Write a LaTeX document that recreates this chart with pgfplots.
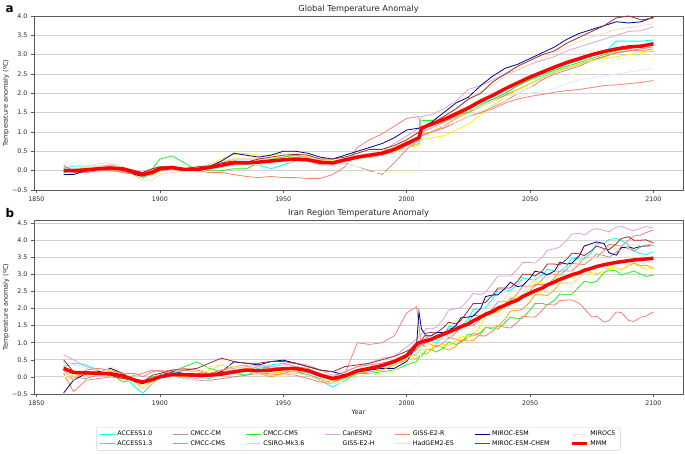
\documentclass[border=0pt]{standalone}
\usepackage{pgfplots}
\pgfplotsset{compat=1.18}
\usepackage{pgfplotstable}
\usepackage{fontspec}
\setmainfont{DejaVu Sans}

\definecolor{cA10}{HTML}{00FFFF}
\definecolor{cA13}{HTML}{FFA500}
\definecolor{cCM}{HTML}{BC8F8F}
\definecolor{cCMS}{HTML}{F08080}
\definecolor{cCM5}{HTML}{22EE22}
\definecolor{cCS}{HTML}{FFEE00}
\definecolor{cCAN}{HTML}{DDA0DD}
\definecolor{cGH}{HTML}{FCF8D8}
\definecolor{cGR}{HTML}{FA8072}
\definecolor{cHG}{HTML}{F5DEB3}
\definecolor{cME}{HTML}{00008B}
\definecolor{cMC}{HTML}{A52A2A}
\definecolor{cM5}{HTML}{E6E6FA}
\definecolor{cMMM}{HTML}{FF0000}

\newcommand\tickfont{\fontsize{6.3}{7.5}\selectfont}

\pgfplotstableread{
yr   A10  A13  CM   CMS  CM5  CS   CAN  GH   GR   HG   ME   MC   M5   MMM
1861 0.05 0.0  0.0  0.1  -0.05 0.0 0.0  0.0  0.15 0.0  -0.1 0.0  0.0  0.0
1865 0.12 0.05 -0.03 0.02 0.0 0.05 0.0  0.02 -0.05 0.05 -0.1 0.0 0.05 0.0
1870 0.12 0.05 0.02 -0.02 -0.03 0.08 0.05 0.05 -0.05 0.1 0.0 0.05 0.02 0.02
1875 0.12 0.1  0.05 0.02 0.05 0.1  0.1  0.12 0.0  0.18 0.08 0.05 0.1 0.05
1880 0.1  0.15 0.1  0.0  0.08 0.12 0.15 0.18 0.0  0.2  0.1  0.05 0.12 0.07
1885 0.05 0.1  0.05 -0.05 0.02 0.05 0.08 0.1 -0.02 0.1 0.05 0.08 0.05 0.04
1890 -0.05 -0.05 -0.02 -0.1 -0.12 -0.1 0.0 -0.1 -0.1 -0.15 -0.1 0.0 -0.05 -0.05
1893 -0.2 -0.15 -0.05 -0.12 -0.2 -0.15 -0.1 -0.2 -0.15 -0.25 -0.15 -0.05 -0.15 -0.1
1897 -0.05 -0.1 0.05 -0.05 0.05 -0.05 0.02 -0.15 0.0 -0.25 -0.05 0.05 -0.05 -0.04
1900 0.05 0.0  0.1  0.05 0.3  0.05 0.08 -0.1 0.1  -0.1 0.05 0.1  0.05 0.05
1905 0.1  0.05 0.12 0.1  0.38 0.1  0.1  -0.15 0.08 -0.05 0.05 0.1 0.08 0.08
1910 0.05 0.0  0.05 0.05 0.2  0.05 0.05 -0.1 0.05 0.0  0.0  0.05 0.05 0.03
1915 0.05 0.05 0.0  0.08 0.0  0.05 0.08 -0.05 0.0 0.05 0.02 0.1  0.05 0.03
1920 0.1  0.1  0.05 0.12 0.0  0.15 0.15 0.05 -0.05 0.15 0.1 0.12 0.1 0.08
1925 0.15 0.2  0.1  0.15 0.0  0.3  0.2  0.1  -0.05 0.25 0.25 0.2 0.18 0.14
1930 0.2  0.3  0.15 0.2  0.05 0.42 0.25 0.15 -0.1 0.3  0.45 0.25 0.2  0.2
1935 0.15 0.3  0.2  0.18 0.05 0.45 0.25 0.2  -0.15 0.3 0.4  0.22 0.2  0.2
1940 0.15 0.3  0.25 0.2  0.2  0.4  0.2  0.15 -0.18 0.28 0.35 0.3 0.2  0.22
1945 0.05 0.3  0.25 0.25 0.3  0.4  0.25 0.2  -0.15 0.3 0.4  0.35 0.25 0.25
1950 0.15 0.35 0.3  0.3  0.35 0.45 0.3  0.25 -0.18 0.3 0.5  0.4  0.3  0.28
1955 0.25 0.4  0.3  0.35 0.4  0.45 0.3  0.3  -0.18 0.35 0.5 0.42 0.3  0.3
1960 0.25 0.35 0.25 0.3  0.3  0.4  0.25 0.25 -0.2 0.35 0.45 0.4  0.25 0.28
1965 0.2  0.25 0.15 0.25 0.2  0.3  0.2  0.2  -0.2 0.25 0.35 0.3  0.2  0.22
1970 0.15 0.2  0.15 0.2  0.2  0.25 0.2  0.15 -0.1 0.2  0.3  0.3  0.15 0.2
1975 0.25 0.25 0.2  0.3  0.3  0.3  0.3  0.2  0.1  0.3  0.4  0.35 0.2  0.28
1980 0.35 0.3  0.1  0.35 0.35 0.35 0.4  0.1  0.6  0.4  0.5  0.45 0.3  0.35
1985 0.4  0.35 0.0  0.35 0.4  0.4  0.4  -0.05 0.8 0.45 0.6  0.55 0.35 0.4
1990 0.45 0.4  -0.1 0.4  0.5  0.45 0.5  -0.05 0.95 0.5 0.7  0.55 0.4  0.45
1995 0.55 0.5  0.2  0.5  0.6  0.5  0.7  -0.05 1.15 0.6 0.85 0.65 0.45 0.55
2000 0.65 0.6  0.55 0.65 0.75 0.6  0.9  -0.05 1.35 0.75 1.05 0.8 0.6  0.7
2005 0.75 0.7  0.8  0.8  0.85 0.65 1.1  -0.05 1.4 0.9  1.1  1.0  0.8  0.85
2006 1.1  0.95 0.9  1.0  1.3  0.8  1.4  1.35 0.9  1.1  1.12 1.05 1.2  1.1
2010 1.15 1.0  1.0  1.1  1.3  0.85 1.45 1.4  1.0  1.25 1.25 1.2  1.1  1.2
2015 1.3  1.15 1.1  1.25 1.35 0.9  1.6  1.45 1.1  1.4  1.5  1.4  1.15 1.32
2020 1.45 1.35 1.25 1.4  1.45 1.05 1.8  1.5  1.25 1.6  1.75 1.6  1.25 1.47
2025 1.6  1.5  1.4  1.55 1.5  1.2  2.1  1.55 1.4  1.85 1.9  1.85 1.4  1.62
2030 1.75 1.65 1.5  1.65 1.7  1.45 2.2  1.65 1.5  2.05 2.2  2.0  1.55 1.8
2035 1.85 1.8  1.65 1.8  1.85 1.7  2.35 1.8  1.6  2.2  2.45 2.3  1.68 1.95
2040 2.0  1.95 1.8  1.95 2.0  1.9  2.5  1.9  1.75 2.45 2.65 2.5  1.8  2.12
2045 2.2  2.1  2.0  2.1  2.2  2.1  2.6  2.0  1.85 2.6  2.75 2.7  1.9  2.27
2050 2.35 2.25 2.15 2.25 2.35 2.25 2.75 2.15 1.92 2.75 2.9 2.85 2.0  2.42
2055 2.45 2.4  2.35 2.4  2.5  2.4  2.85 2.25 1.97 2.9  3.05 3.0 2.07 2.55
2060 2.6  2.55 2.5  2.55 2.6  2.55 2.95 2.35 2.03 3.05 3.2 3.1  2.12 2.68
2065 2.75 2.65 2.6  2.65 2.7  2.65 3.1  2.45 2.07 3.2  3.4  3.3  2.25 2.8
2070 2.85 2.75 2.7  2.75 2.8  2.75 3.2  2.55 2.1  3.35 3.55 3.45 2.35 2.9
2075 2.95 2.85 2.85 2.85 2.9  2.85 3.3  2.65 2.15 3.45 3.65 3.6 2.4  3.0
2080 3.05 2.95 2.95 2.95 3.0  2.9  3.4  2.75 2.2  3.55 3.75 3.75 2.45 3.08
2085 3.35 3.05 3.05 3.05 3.1  2.95 3.5  2.85 2.22 3.65 3.85 3.95 2.5 3.15
2090 3.35 3.1  3.1  3.1  3.15 3.0  3.6  2.9  2.25 3.7  3.82 4.0  2.55 3.2
2095 3.35 3.1  3.15 3.1  3.22 3.05 3.62 2.95 2.28 3.75 3.85 3.9 2.6  3.22
2100 3.38 3.08 3.2  3.15 3.3  3.1  3.72 3.0  2.33 3.8  3.97 3.95 2.65 3.28
}\tabA

\pgfplotstableread{
yr   A10  A13  CM   CMS  CM5  CS   CAN  GH   GR   HG   ME   MC   M5   MMM
1861 0.3  0.2  0.3  0.2  0.1  0.0  0.65 0.0  0.1  0.1  -0.47 0.5 0.4  0.25
1865 0.4  0.1  0.0  -0.1 0.15 0.0  0.5  0.1  -0.43 0.15 -0.1 0.15 0.35 0.13
1870 0.35 0.05 -0.05 0.2 0.1  0.15 0.3  0.15 -0.1 0.1  0.1  0.1  0.25 0.12
1875 0.2  0.1  0.05 0.25 0.2  0.1  0.2  0.05 -0.05 0.05 0.15 0.1 0.2  0.1
1880 0.15 0.15 0.1  0.2  0.1  0.2  0.15 0.1  0.0  0.3  0.25 0.05 0.15 0.09
1885 0.05 0.0  0.0  0.1  -0.15 0.0 0.1  0.0  -0.05 0.15 0.1 -0.05 0.05 0.03
1890 -0.3 -0.15 -0.1 0.1 -0.05 -0.1 -0.1 -0.2 0.05 -0.2 -0.15 -0.1 -0.1 -0.1
1893 -0.48 -0.3 -0.15 0.0 -0.2 -0.3 -0.2 -0.3 0.1 -0.35 -0.2 -0.15 -0.15 -0.15
1897 -0.2 -0.1 -0.05 0.15 0.0 -0.15 -0.1 -0.1 0.2 -0.2 -0.05 0.05 -0.05 -0.08
1900 0.0  0.0  0.1  0.2  0.05 0.0  0.0  0.1  0.15 -0.05 0.05 0.1 0.05 0.0
1905 0.15 0.05 0.05 0.1  0.15 0.1  0.1  0.05 0.2  0.1  0.15 0.2  0.1  0.07
1910 0.1  0.0  -0.05 0.2 0.3  0.0  0.0  0.1  0.25 0.05 0.1  0.2  -0.05 0.06
1915 0.0  0.05 -0.1 0.15 0.44 0.05 -0.05 0.15 0.2 0.1  0.1  0.25 -0.1 0.05
1920 -0.05 0.0 -0.1 0.1  0.25 0.2  0.1  0.0  0.1  0.3  0.05 0.4  0.0  0.05
1925 0.1  0.2  -0.05 0.2 0.15 0.35 0.2  0.1  0.15 0.35 0.15 0.55 0.1  0.08
1930 0.2  0.3  0.0  0.1  0.1  0.3  0.25 0.15 0.2  0.3  0.44 0.45 0.2  0.15
1935 0.15 0.35 0.05 0.2  0.05 0.25 0.3  0.2  0.25 0.2  0.4  0.4  0.25 0.2
1940 0.25 0.1  0.1  0.3  0.2  0.2  0.35 0.15 0.1  0.1  0.35 0.4  0.3  0.18
1945 0.35 0.0  0.1  0.25 0.3  0.1  0.3  0.2  0.05 0.05 0.45 0.45 0.2  0.2
1950 0.4  0.1  0.15 0.2  0.25 0.15 0.35 0.25 0.1  0.0  0.49 0.45 0.2  0.24
1955 0.3  0.2  0.15 0.3  0.2  0.25 0.4  0.3  0.05 0.1  0.4  0.4  0.25 0.25
1960 0.1  0.15 0.05 0.25 0.05 0.2  0.35 0.15 -0.05 0.05 0.3 0.3  0.2  0.18
1965 -0.1 0.0  -0.05 0.1 -0.1 0.05 0.2  0.0  -0.15 -0.1 0.2 0.2  0.05 0.05
1970 -0.3 -0.15 -0.1 0.0 -0.15 -0.1 0.05 -0.15 -0.2 -0.2 0.15 0.15 -0.05 -0.05
1975 -0.1 -0.05 0.0 0.15 0.0  0.0  0.15 -0.2 0.1  -0.15 0.06 0.3 0.05 0.03
1980 0.1  0.1  0.15 0.3  0.1  0.15 0.3  -0.3 1.0  0.0  0.15 0.35 0.15 0.18
1985 0.2  0.15 0.2  0.35 0.1  0.25 0.4  -0.3 0.95 0.1  0.2  0.4  0.25 0.25
1990 0.3  0.2  0.3  0.4  0.15 0.35 0.55 -0.38 1.0 0.05 0.25 0.5  0.3  0.33
1995 0.4  0.35 0.45 0.5  0.2  0.4  0.6  -0.4 1.2  0.2  0.25 0.6  0.4  0.45
2000 0.55 0.5  0.6  0.65 0.35 0.55 0.88 -0.45 1.87 0.4 0.45 0.75 0.55 0.62
2004 0.65 0.55 0.8  0.8  0.45 0.7  1.1  -0.2 2.05 0.6  0.9  0.9  0.7  0.95
2005 0.75 0.6  0.9  0.9  0.55 0.75 1.2  0.2  1.5  0.8  1.91 1.0  0.8  1.0
2006 0.9  0.7  1.0  0.95 0.6  0.8  1.25 0.9  0.9  0.9  1.4  1.05 0.95 1.02
2008 1.05 0.67 1.15 0.88 0.8  0.78 1.42 0.85 1.02 0.88 1.2  1.28 0.9  1.06
2010 1.0  0.8  1.1  1.0  0.8  0.85 1.4  1.0  0.95 1.05 1.2  1.3  1.0  1.1
2012 1.0  0.93 1.08 1.15 0.73 0.98 1.45 1.15 0.88 1.2  1.3  1.28 1.13 1.17
2015 1.2  0.85 1.25 1.1  0.85 0.95 1.7  1.1  1.0  1.15 1.3  1.45 1.1  1.25
2017 1.47 0.78 1.43 1.1  1.02 0.92 1.95 1.08 1.15 1.18 1.35 1.6  1.1  1.31
2020 1.5  0.9  1.4  1.3  0.95 1.05 2.0  1.25 1.1  1.4  1.5  1.55 1.25 1.4
2022 1.48 1.08 1.4  1.5  1.0  1.2  2.03 1.43 1.03 1.6  1.73 1.65 1.4  1.47
2025 1.7  1.05 1.6  1.5  1.25 1.15 2.25 1.4  1.15 1.6  1.75 1.95 1.4  1.55
2027 1.97 1.07 1.8  1.5  1.2  1.22 2.45 1.4  1.28 1.62 1.78 2.15 1.42 1.64
2030 2.0  1.25 1.8  1.7  1.3  1.5  2.4  1.6  1.2  1.85 2.0  2.15 1.6  1.75
2032 2.03 1.45 1.8  1.9  1.45 1.78 2.48 1.78 1.2  2.08 2.35 2.18 1.78 1.83
2035 2.3  1.45 2.0  1.9  1.4  1.85 2.75 1.75 1.35 2.1  2.4  2.4  1.8  1.92
2037 2.55 1.48 2.2  1.9  1.4  1.88 2.95 1.75 1.5  2.1  2.4  2.6  1.8  2.01
2040 2.55 1.7  2.2  2.1  1.6  2.1  2.95 1.95 1.45 2.3  2.6  2.6  1.95 2.1
2042 2.52 1.93 2.22 2.3  1.75 2.33 2.95 2.13 1.43 2.5  2.77 2.6  2.1  2.17
2045 2.7  1.95 2.45 2.3  1.7  2.35 3.15 2.1  1.6  2.5  2.64 2.8  2.1  2.25
2047 2.9  1.98 2.65 2.3  1.72 2.38 3.35 2.1  1.78 2.5  2.67 3.0  2.12 2.35
2050 2.85 2.2  2.65 2.5  1.95 2.6  3.35 2.3  1.75 2.7  2.89 3.0  2.3  2.45
2052 2.83 2.4  2.65 2.7  2.15 2.78 3.33 2.48 1.75 2.9  3.09 2.95 2.45 2.52
2055 3.0  2.4  2.85 2.7  2.15 2.75 3.5  2.45 1.95 2.9  3.05 3.1  2.45 2.6
2057 3.15 2.38 3.02 2.7  2.1  2.72 3.7  2.43 2.12 2.88 2.98 3.3  2.45 2.69
2060 3.1  2.55 3.0  2.9  2.25 2.85 3.75 2.6  2.1  3.05 3.1  3.3  2.6  2.78
2062 3.08 2.75 2.98 3.1  2.43 2.98 3.8  2.78 2.23 3.23 3.35 3.28 2.75 2.85
2065 3.25 2.75 3.15 3.1  2.4  2.95 4.0  2.75 2.25 3.2  3.3  3.45 2.75 2.93
2067 3.47 2.72 3.32 3.1  2.42 2.9  4.18 2.72 2.25 3.18 3.33 3.62 2.75 2.99
2070 3.45 2.9  3.3  3.3  2.65 3.0  4.2  2.9  2.15 3.35 3.55 3.6  2.9  3.05
2072 3.45 3.05 3.28 3.5  2.8  3.1  4.15 3.05 2.0  3.52 3.83 3.55 3.03 3.12
2075 3.65 3.0  3.45 3.5  2.75 3.05 4.3  3.0  1.75 3.5  3.9  3.7  3.0  3.18
2077 3.9  2.97 3.6  3.5  2.8  3.02 4.34 2.95 1.78 3.48 3.95 3.83 2.97 3.23
2080 3.9  3.1  3.55 3.7  3.05 3.1  4.28 3.1  1.6  3.65 3.9  3.75 3.1  3.28
2082 4.02 3.25 3.5  3.88 3.13 3.18 4.25 3.25 1.65 3.8  3.63 3.72 3.23 3.31
2085 4.05 3.2  3.65 3.85 3.1  3.15 4.38 3.2  1.9  3.75 3.56 3.9  3.2  3.35
2087 4.0  3.15 3.8  3.82 2.98 3.12 4.4  3.15 1.88 3.68 3.78 4.05 3.15 3.37
2090 3.85 3.25 3.75 4.0  3.05 3.25 4.32 3.3  1.65 3.8  3.8  4.1  3.25 3.4
2092 3.68 3.33 3.68 4.12 3.1  3.28 4.28 3.4  1.62 3.89 3.76 4.0  3.35 3.42
2095 3.6  3.25 3.8  4.15 3.0  3.22 4.35 3.4  1.75 3.82 3.82 4.0  3.3  3.44
2097 3.58 3.27 3.88 4.22 2.94 3.15 4.4  3.45 1.78 3.88 3.83 4.01 3.33 3.45
2100 3.66 3.18 3.85 4.3  2.98 3.18 4.35 3.5  1.9  3.84 3.84 3.92 3.35 3.47
}\tabB

\pgfplotsset{
  every axis title shift=0pt,
  panel/.style={
    scale only axis, width=649bp, height=174bp,
    xmin=1849, xmax=2112, ymin=-0.5,
    xtick={1850,1900,1950,2000,2050,2100},
    xticklabels={1850,1900,1950,2000,2050,2100},
    ymajorgrids, grid style={color=black!18, line width=0.9bp},
    axis line style={color=black!65, line width=0.8bp},
    tick style={color=black!65, line width=0.6bp},
    tick align=outside, major tick length=3bp,
    xtick pos=left, ytick pos=left,
    ticklabel style={font=\tickfont, color=black!85},
    xticklabel style={yshift=-0.5bp},
    title style={font=\fontsize{8.3}{9.5}\selectfont, color=black!85, at={(axis description cs:0.5,1.024)}, anchor=base, yshift=0pt},
    ylabel={Temperature anomaly (ºC)},
    ylabel style={font=\fontsize{6.6}{7.5}\selectfont, color=black!85, at={(axis description cs:-0.043,0.5)}, anchor=center},
    no markers,
    every axis plot/.append style={line width=0.8bp},
    clip=true,
  },
}

\begin{document}
\begin{tikzpicture}[x=1bp,y=1bp]
\useasboundingbox (0,0) rectangle (685,454);

\begin{axis}[panel, at={(34bp,264bp)}, anchor=south west,
  ymax=4.0, ytick={-0.5,0,0.5,1,1.5,2,2.5,3,3.5,4},
  yticklabels={−0.5,0.0,0.5,1.0,1.5,2.0,2.5,3.0,3.5,4.0},
  title={Global Temperature Anomaly}]
\addplot[color=cA10] table[x=yr,y=A10]{\tabA};
\addplot[color=cA13] table[x=yr,y=A13]{\tabA};
\addplot[color=cCM] table[x=yr,y=CM]{\tabA};
\addplot[color=cCMS] table[x=yr,y=CMS]{\tabA};
\addplot[color=cCM5] table[x=yr,y=CM5]{\tabA};
\addplot[color=cCS] table[x=yr,y=CS]{\tabA};
\addplot[color=cCAN] table[x=yr,y=CAN]{\tabA};
\addplot[color=cGH] table[x=yr,y=GH]{\tabA};
\addplot[color=cGR] table[x=yr,y=GR]{\tabA};
\addplot[color=cHG] table[x=yr,y=HG]{\tabA};
\addplot[color=cME] table[x=yr,y=ME]{\tabA};
\addplot[color=cMC] table[x=yr,y=MC]{\tabA};
\addplot[color=cM5] table[x=yr,y=M5]{\tabA};
\addplot[color=cMMM, line width=3.5bp] table[x=yr,y=MMM]{\tabA};
\end{axis}

\begin{axis}[panel, at={(34bp,60bp)}, anchor=south west,
  ymax=4.59, ytick={-0.5,0,0.5,1,1.5,2,2.5,3,3.5,4,4.5},
  yticklabels={−0.5,0.0,0.5,1.0,1.5,2.0,2.5,3.0,3.5,4.0,4.5},
  title={Iran Region Temperature Anomaly},
  xlabel={Year},
  xlabel style={font=\fontsize{6.6}{7.5}\selectfont, color=black!85, at={(axis description cs:0.5,-0.102)}, anchor=center},
  legend columns=7,
  legend style={at={(0.5,-0.19)}, anchor=north, font=\tickfont, draw=black!18, rounded corners=2bp,
    inner xsep=3bp, inner ysep=2bp, row sep=-1bp,
    /tikz/every even column/.append style={column sep=18.5bp}},
  legend cell align=left,
  legend image code/.code={\draw[#1] (0bp,0bp) -- (15bp,0bp);},
]
\addplot[color=cA10] table[x=yr,y=A10]{\tabB}; \addlegendentry{ACCESS1.0}
\addplot[color=cCM] table[x=yr,y=CM]{\tabB}; \addlegendentry{CMCC-CM}
\addplot[color=cCM5] table[x=yr,y=CM5]{\tabB}; \addlegendentry{CMCC-CM5}
\addplot[color=cCAN] table[x=yr,y=CAN]{\tabB}; \addlegendentry{CanESM2}
\addplot[color=cGR] table[x=yr,y=GR]{\tabB}; \addlegendentry{GISS-E2-R}
\addplot[color=cME] table[x=yr,y=ME]{\tabB}; \addlegendentry{MIROC-ESM}
\addplot[color=cM5] table[x=yr,y=M5]{\tabB}; \addlegendentry{MIROC5}
\addplot[color=cA13] table[x=yr,y=A13]{\tabB}; \addlegendentry{ACCESS1.3}
\addplot[color=cCMS] table[x=yr,y=CMS]{\tabB}; \addlegendentry{CMCC-CMS}
\addplot[color=cCS] table[x=yr,y=CS]{\tabB}; \addlegendentry{CSIRO-Mk3.6}
\addplot[color=cGH] table[x=yr,y=GH]{\tabB}; \addlegendentry{GISS-E2-H}
\addplot[color=cHG] table[x=yr,y=HG]{\tabB}; \addlegendentry{HadGEM2-ES}
\addplot[color=cMC] table[x=yr,y=MC]{\tabB}; \addlegendentry{MIROC-ESM-CHEM}
\addplot[color=cMMM, line width=3.5bp] table[x=yr,y=MMM]{\tabB}; \addlegendentry{MMM}
\end{axis}

\node[anchor=base west, font=\fontsize{12}{14}\selectfont\bfseries] at (2,441) {a};
\node[anchor=base west, font=\fontsize{12}{14}\selectfont\bfseries] at (2,236) {b};
\end{tikzpicture}
\end{document}
